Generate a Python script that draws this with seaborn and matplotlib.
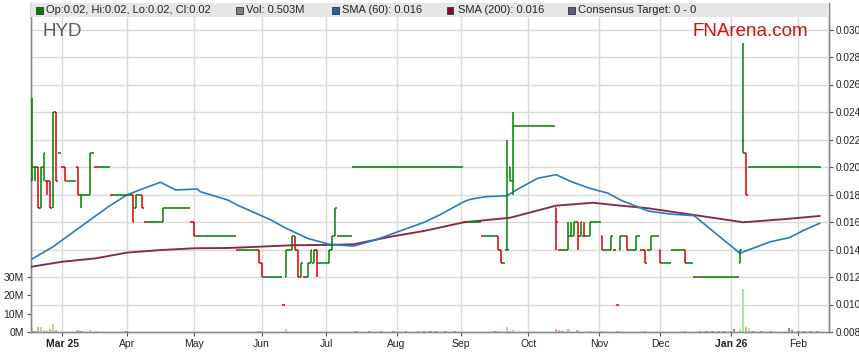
import matplotlib
matplotlib.use("Agg")
import matplotlib.pyplot as plt
from matplotlib.collections import LineCollection
from matplotlib.patches import Rectangle
import numpy as np
import pandas as pd
import seaborn as sns

# ---------------- data (prices in thousandths of a dollar) ----------------
START = "2025-02-17"
N_DAYS = 258

open_ = [
    19, 20, 20, 17, 20, 19, 19, 18, 24, 21,
    20, 20, 19, 19, 19, 20, 18, 18, 18, 18,
    21, 20, 20, 20, 20, 20, 18, 18, 18, 18,
    18, 18, 18, 18, 17, 18, 18, 16, 16, 16,
    16, 16, 16, 16, 17, 17, 17, 17, 17, 17,
    17, 17, 16, 16, 15, 15, 15, 15, 15, 15,
    15, 15, 15, 15, 15, 15, 15, 14, 14, 14,
    14, 14, 14, 14, 14, 13, 12, 12, 12, 12,
    12, 12, 10, 12, 14, 14, 15, 14, 12, 12,
    12, 13, 13, 14, 13, 13, 13, 13, 14, 15,
    15, 15, 15, 15, 15, 20, 20, 20, 20, 20,
    20, 20, 20, 20, 20, 20, 20, 20, 20, 20,
    20, 20, 20, 20, 20, 20, 20, 20, 20, 20,
    20, 20, 20, 20, 20, 20, 20, 20, 20, 20,
    20, 16, 16, 16, 16, 16, 16, 15, 15, 15,
    15, 15, 15, 14, 13, 14, 20, 19, 23, 23,
    23, 23, 23, 23, 23, 23, 23, 23, 23, 23,
    23, 17, 14, 14, 14, 14, 15, 15, 16, 15,
    15, 15, 15, 16, 16, 16, 15, 14, 14, 14,
    14, 10, 14, 15, 15, 14, 14, 14, 15, 14,
    14, 14, 14, 15, 15, 14, 13, 13, 13, 14,
    14, 14, 14, 14, 13, 13, 12, 12, 12, 12,
    12, 12, 12, 12, 12, 12, 12, 12, 12, 12,
    12, 13, 22, 21, 20, 20, 20, 20, 20, 20,
    20, 20, 20, 20, 20, 20, 20, 20, 20, 20,
    20, 20, 20, 20, 20, 20, 20, 20,
]
high = [
    25, 20, 20, 20, 21, 19, 19, 24, 24, 21,
    20, 20, 19, 19, 19, 20, 18, 18, 18, 21,
    21, 20, 20, 20, 20, 20, 18, 18, 18, 18,
    18, 18, 18, 18, 18, 18, 18, 16, 16, 16,
    16, 16, 16, 17, 17, 17, 17, 17, 17, 17,
    17, 17, 16, 16, 15, 15, 15, 15, 15, 15,
    15, 15, 15, 15, 15, 15, 15, 14, 14, 14,
    14, 14, 14, 14, 14, 13, 12, 12, 12, 12,
    12, 12, 10, 14, 14, 15, 15, 14, 13, 12,
    13, 14, 14, 14, 13, 13, 13, 14, 15, 17,
    15, 15, 15, 15, 15, 20, 20, 20, 20, 20,
    20, 20, 20, 20, 20, 20, 20, 20, 20, 20,
    20, 20, 20, 20, 20, 20, 20, 20, 20, 20,
    20, 20, 20, 20, 20, 20, 20, 20, 20, 20,
    20, 16, 16, 16, 16, 16, 16, 15, 15, 15,
    15, 15, 15, 14, 13, 22, 20, 24, 23, 23,
    23, 23, 23, 23, 23, 23, 23, 23, 23, 23,
    23, 17, 14, 14, 14, 16, 16, 16, 16, 16,
    16, 15, 16, 16, 16, 16, 15, 14, 14, 15,
    14, 10, 15, 15, 15, 14, 14, 15, 15, 14,
    14, 14, 15, 15, 15, 14, 13, 13, 13, 14,
    14, 14, 14, 14, 13, 13, 12, 12, 12, 12,
    12, 12, 12, 12, 12, 12, 12, 12, 12, 12,
    12, 14, 29, 21, 20, 20, 20, 20, 20, 20,
    20, 20, 20, 20, 20, 20, 20, 20, 20, 20,
    20, 20, 20, 20, 20, 20, 20, 20,
]
low = [
    19, 19, 17, 17, 19, 18, 17, 17, 19, 21,
    20, 19, 19, 19, 19, 18, 17, 18, 18, 18,
    21, 20, 20, 20, 20, 20, 18, 18, 18, 18,
    18, 18, 18, 16, 17, 18, 17, 16, 16, 16,
    16, 16, 16, 16, 17, 17, 17, 17, 17, 17,
    17, 17, 16, 15, 15, 15, 15, 15, 15, 15,
    15, 15, 15, 15, 15, 15, 15, 14, 14, 14,
    14, 14, 14, 14, 13, 12, 12, 12, 12, 12,
    12, 12, 10, 12, 14, 14, 14, 12, 12, 12,
    12, 13, 13, 12, 13, 13, 13, 13, 14, 15,
    15, 15, 15, 15, 15, 20, 20, 20, 20, 20,
    20, 20, 20, 20, 20, 20, 20, 20, 20, 20,
    20, 20, 20, 20, 20, 20, 20, 20, 20, 20,
    20, 20, 20, 20, 20, 20, 20, 20, 20, 20,
    20, 16, 16, 16, 16, 16, 16, 15, 15, 15,
    15, 15, 14, 13, 13, 14, 19, 18, 23, 23,
    23, 23, 23, 23, 23, 23, 23, 23, 23, 23,
    23, 14, 14, 14, 14, 14, 15, 15, 14, 15,
    15, 15, 15, 16, 16, 16, 14, 14, 14, 14,
    14, 10, 14, 15, 14, 14, 14, 14, 15, 14,
    13, 14, 14, 15, 15, 13, 13, 13, 13, 14,
    14, 14, 14, 13, 13, 13, 12, 12, 12, 12,
    12, 12, 12, 12, 12, 12, 12, 12, 12, 12,
    12, 13, 21, 18, 20, 20, 20, 20, 20, 20,
    20, 20, 20, 20, 20, 20, 20, 20, 20, 20,
    20, 20, 20, 20, 20, 20, 20, 20,
]
close = [
    20, 20, 17, 20, 21, 19, 17, 24, 19, 21,
    20, 19, 19, 19, 19, 18, 18, 18, 18, 21,
    21, 20, 20, 20, 20, 20, 18, 18, 18, 18,
    18, 18, 18, 16, 18, 18, 17, 16, 16, 16,
    16, 16, 16, 17, 17, 17, 17, 17, 17, 17,
    17, 17, 16, 15, 15, 15, 15, 15, 15, 15,
    15, 15, 15, 15, 15, 15, 15, 14, 14, 14,
    14, 14, 14, 14, 13, 12, 12, 12, 12, 12,
    12, 12, 10, 14, 14, 15, 14, 12, 13, 12,
    13, 14, 14, 13, 13, 13, 13, 14, 15, 17,
    15, 15, 15, 15, 15, 20, 20, 20, 20, 20,
    20, 20, 20, 20, 20, 20, 20, 20, 20, 20,
    20, 20, 20, 20, 20, 20, 20, 20, 20, 20,
    20, 20, 20, 20, 20, 20, 20, 20, 20, 20,
    20, 16, 16, 16, 16, 16, 16, 15, 15, 15,
    15, 15, 14, 13, 13, 14, 19, 23, 23, 23,
    23, 23, 23, 23, 23, 23, 23, 23, 23, 23,
    23, 16, 14, 14, 14, 15, 15, 16, 15, 16,
    15, 15, 16, 16, 16, 16, 14, 14, 14, 15,
    14, 10, 15, 15, 14, 14, 14, 15, 15, 14,
    13, 14, 15, 15, 15, 13, 13, 13, 13, 14,
    14, 14, 14, 13, 13, 13, 12, 12, 12, 12,
    12, 12, 12, 12, 12, 12, 12, 12, 12, 12,
    12, 14, 21, 18, 20, 20, 20, 20, 20, 20,
    20, 20, 20, 20, 20, 20, 20, 20, 20, 20,
    20, 20, 20, 20, 20, 20, 20, 20,
]

# volume (millions of shares) on the days with a visible bar
vol_day = [0, 1, 2, 3, 4, 5, 6, 7, 8, 15, 16, 19, 21, 31, 74, 75, 83,
           106, 110, 114, 118, 122, 126, 128, 130, 132, 135, 138,
           151, 152, 155, 156, 157, 171, 172, 173, 175, 178, 182, 186,
           191, 200, 213, 218, 220, 222, 224, 226, 228, 229, 231, 232,
           233, 234, 235, 238, 241, 247, 248, 250, 252, 254, 256]
vol_m = [2.0, 0.5, 2.5, 2.5, 1.0, 0.5, 1.8, 4.1, 0.9, 1.0, 0.4, 1.0, 0.6,
         0.3, 0.6, 0.5, 1.6,
         0.3, 0.4, 0.3, 0.3, 0.4, 0.3, 0.3, 0.4, 0.3, 0.3, 0.4,
         0.5, 0.4, 3.0, 0.8, 1.2, 1.8, 1.0, 0.5, 1.8, 1.1, 0.4, 0.4,
         0.6, 0.5, 0.4, 0.3, 0.3, 0.4, 0.3, 0.5, 0.3, 1.4, 1.4, 23.6,
         3.0, 2.3, 0.4, 0.3, 0.3, 2.1, 1.2, 0.3, 0.4, 0.3, 0.4]

# moving averages (day index, value)
sma60_day = [0, 7, 10, 18, 25, 31, 36, 42, 47, 54, 55, 64, 67, 78, 83, 90,
             97, 105, 112, 128, 133, 141, 143, 148, 155, 159, 165, 171, 176,
             182, 188, 192, 201, 208, 216, 231, 233, 241, 247, 252, 257]
sma60 = [0.01329, 0.01420, 0.01469, 0.01598, 0.01711, 0.01796, 0.01840,
         0.01889, 0.01833, 0.01840, 0.01820, 0.01760, 0.01724, 0.01615,
         0.01554, 0.01481, 0.01438, 0.01425, 0.01469, 0.01598, 0.01651,
         0.01748, 0.01765, 0.01784, 0.01791, 0.01845, 0.01918, 0.01944,
         0.01893, 0.01845, 0.01809, 0.01760, 0.01680, 0.01658, 0.01646,
         0.01372, 0.01391, 0.01457, 0.01486, 0.01542, 0.01591]
sma200_day = [0, 10, 21, 31, 42, 53, 64, 74, 85, 96, 105, 117, 128, 141,
              156, 171, 183, 192, 201, 216, 232, 245, 257]
sma200 = [0.01275, 0.01311, 0.01336, 0.01377, 0.01396, 0.01409, 0.01411,
          0.01420, 0.01431, 0.01433, 0.01438, 0.01493, 0.01535, 0.01598,
          0.01631, 0.01719, 0.01740, 0.01719, 0.01700, 0.01651, 0.01598,
          0.01620, 0.01644]

price_ticks = [0.008, 0.010, 0.012, 0.014, 0.016, 0.018, 0.020, 0.022,
               0.024, 0.026, 0.028, 0.030]
vol_ticks = [0, 10, 20, 30]
vol_tick_labels = ["0M", "10M", "20M", "30M"]
month_labels = ["Mar 25", "Apr", "May", "Jun", "Jul", "Aug", "Sep", "Oct",
                "Nov", "Dec", "Jan 26", "Feb"]
legend_labels = ["Op:0.02, Hi:0.02, Lo:0.02, Cl:0.02", "Vol: 0.503M",
                 "SMA (60): 0.016", "SMA (200): 0.016",
                 "Consensus Target: 0 - 0"]
legend_colors = ["#008000", "#808080", "#1f64a8", "#7a1030", "#5a5a8c"]
ticker = "HYD"
brand = "FNArena.com"

# ---------------- styling ----------------
sns.set_theme(style="white")
plt.rcParams["font.family"] = ["Liberation Sans", "DejaVu Sans"]

GREEN = "#008000"
RED = "#dd0000"
W, H = 859, 363

dates = pd.bdate_range(START, periods=N_DAYS)
df = pd.DataFrame({
    "date": dates,
    "pos": np.arange(N_DAYS),
    "open": np.array(open_) / 1000.0,
    "high": np.array(high) / 1000.0,
    "low": np.array(low) / 1000.0,
    "close": np.array(close) / 1000.0,
})
prev = df["close"].shift(1).fillna(df["close"])
df["up"] = df["close"] >= prev

fig = plt.figure(figsize=(W / 100, H / 100), dpi=100)
ax = fig.add_axes([31 / W, 1 - 332 / H, (829 - 31) / W, (332 - 3) / H])
ax2 = ax.twinx()

# volume (bottom axes)
vdf = pd.DataFrame({"pos": vol_day, "vol": vol_m})
vdf["chg"] = [df["close"][i] - prev[i] for i in vol_day]
vcol = ["#98ee98" if c > 0 else ("#f4a0a0" if c < 0 else "#8c8c8c")
        for c in vdf["chg"]]
vcol[0] = "#98ee98"
ax.bar(vdf["pos"], vdf["vol"], width=0.8, color=vcol, linewidth=0, zorder=2)
ax.set_ylim(0, 179.5)
ax.set_yticks(vol_ticks)
ax.set_yticklabels(vol_tick_labels)
ax.set_xlim(-0.2, 260.0)

month_starts = pd.date_range("2025-03-01", "2026-02-01", freq="MS")
tick_pos = [int(dates.searchsorted(m)) for m in month_starts]
ax.set_xticks(tick_pos)
ax.set_xticklabels(month_labels)
for lab in ax.get_xticklabels():
    if any(ch.isdigit() for ch in lab.get_text()):
        lab.set_fontweight("bold")
ax.grid(True, axis="x", color="#d9d9d9", lw=1.0)
ax.grid(False, axis="y")
ax.set_axisbelow(True)
ax.tick_params(axis="both", labelsize=7.5, labelcolor="#222222",
               color="#555555", length=3, width=0.8, pad=2, direction="out")
ax.tick_params(axis="y", left=True)
ax.tick_params(axis="x", bottom=True)

# price (top axes)
ax2.set_ylim(0.008, 0.008 + 329 / 13750)
ax2.set_yticks(price_ticks)
ax2.set_yticklabels([f"{t:.3f}" for t in price_ticks])
ax2.grid(True, axis="y", color="#d9d9d9", lw=1.0)
ax2.set_axisbelow(True)
ax2.tick_params(axis="y", labelsize=7.2, labelcolor="#222222",
                color="#555555", length=3, width=0.8, pad=1.5, right=True,
                direction="out")

segs, cols = [], []
for r in df.itertuples():
    c = GREEN if r.up else RED
    if r.high > r.low:
        segs.append([(r.pos, r.low), (r.pos, r.high)])
        cols.append(c)
    segs.append([(r.pos - 0.5, r.open), (r.pos, r.open)])
    cols.append(c)
    segs.append([(r.pos, r.close), (r.pos + 0.5, r.close)])
    cols.append(c)
ax2.add_collection(LineCollection(segs, colors=cols, linewidths=1.1,
                                  capstyle="butt", zorder=4))

s60 = pd.DataFrame({"pos": sma60_day, "val": sma60})
s200 = pd.DataFrame({"pos": sma200_day, "val": sma200})
sns.lineplot(data=s200, x="pos", y="val", ax=ax2, color="#85284a",
             lw=1.35, zorder=3, estimator=None, sort=False)
sns.lineplot(data=s60, x="pos", y="val", ax=ax2, color="#2b7bba",
             lw=1.2, zorder=3, estimator=None, sort=False)
ax2.set_xlim(-0.2, 260.0)
ax2.set_xlabel("")
ax2.set_ylabel("")
ax.set_xlabel("")
ax.set_ylabel("")

for a in (ax, ax2):
    for side in ("left", "right", "bottom"):
        a.spines[side].set_visible(True)
        a.spines[side].set_color("#8a8a8a")
        a.spines[side].set_linewidth(1.0)
    a.spines["top"].set_visible(False)

# legend band on top of the plot
band_h = 14 / 329
ax2.add_patch(Rectangle((0, 1 - band_h), 1, band_h, transform=ax2.transAxes,
                        facecolor="#e6e6e6", edgecolor="none", zorder=10,
                        clip_on=False))
legend_x = [36, 236, 332, 447, 568]
for x0, lab, col in zip(legend_x, legend_labels, legend_colors):
    fig.add_artist(Rectangle((x0 / W, 1 - 13.8 / H), 6.5 / W, 6.5 / H,
                             transform=fig.transFigure, facecolor=col,
                             edgecolor="#333333", linewidth=0.6, zorder=20))
    fig.text((x0 + 10.5) / W, 1 - 10.3 / H, lab, fontsize=8,
             color="#222222", va="center", ha="left", zorder=21)

fig.text(42 / W, 1 - 32 / H, ticker, fontsize=13.5, color="#5c5c5c",
         va="center", ha="left")
fig.text(692 / W, 1 - 32 / H, brand, fontsize=13.5, color="#cc1010",
         va="center", ha="left")

fig.savefig("out.png", dpi=100, facecolor="white")
